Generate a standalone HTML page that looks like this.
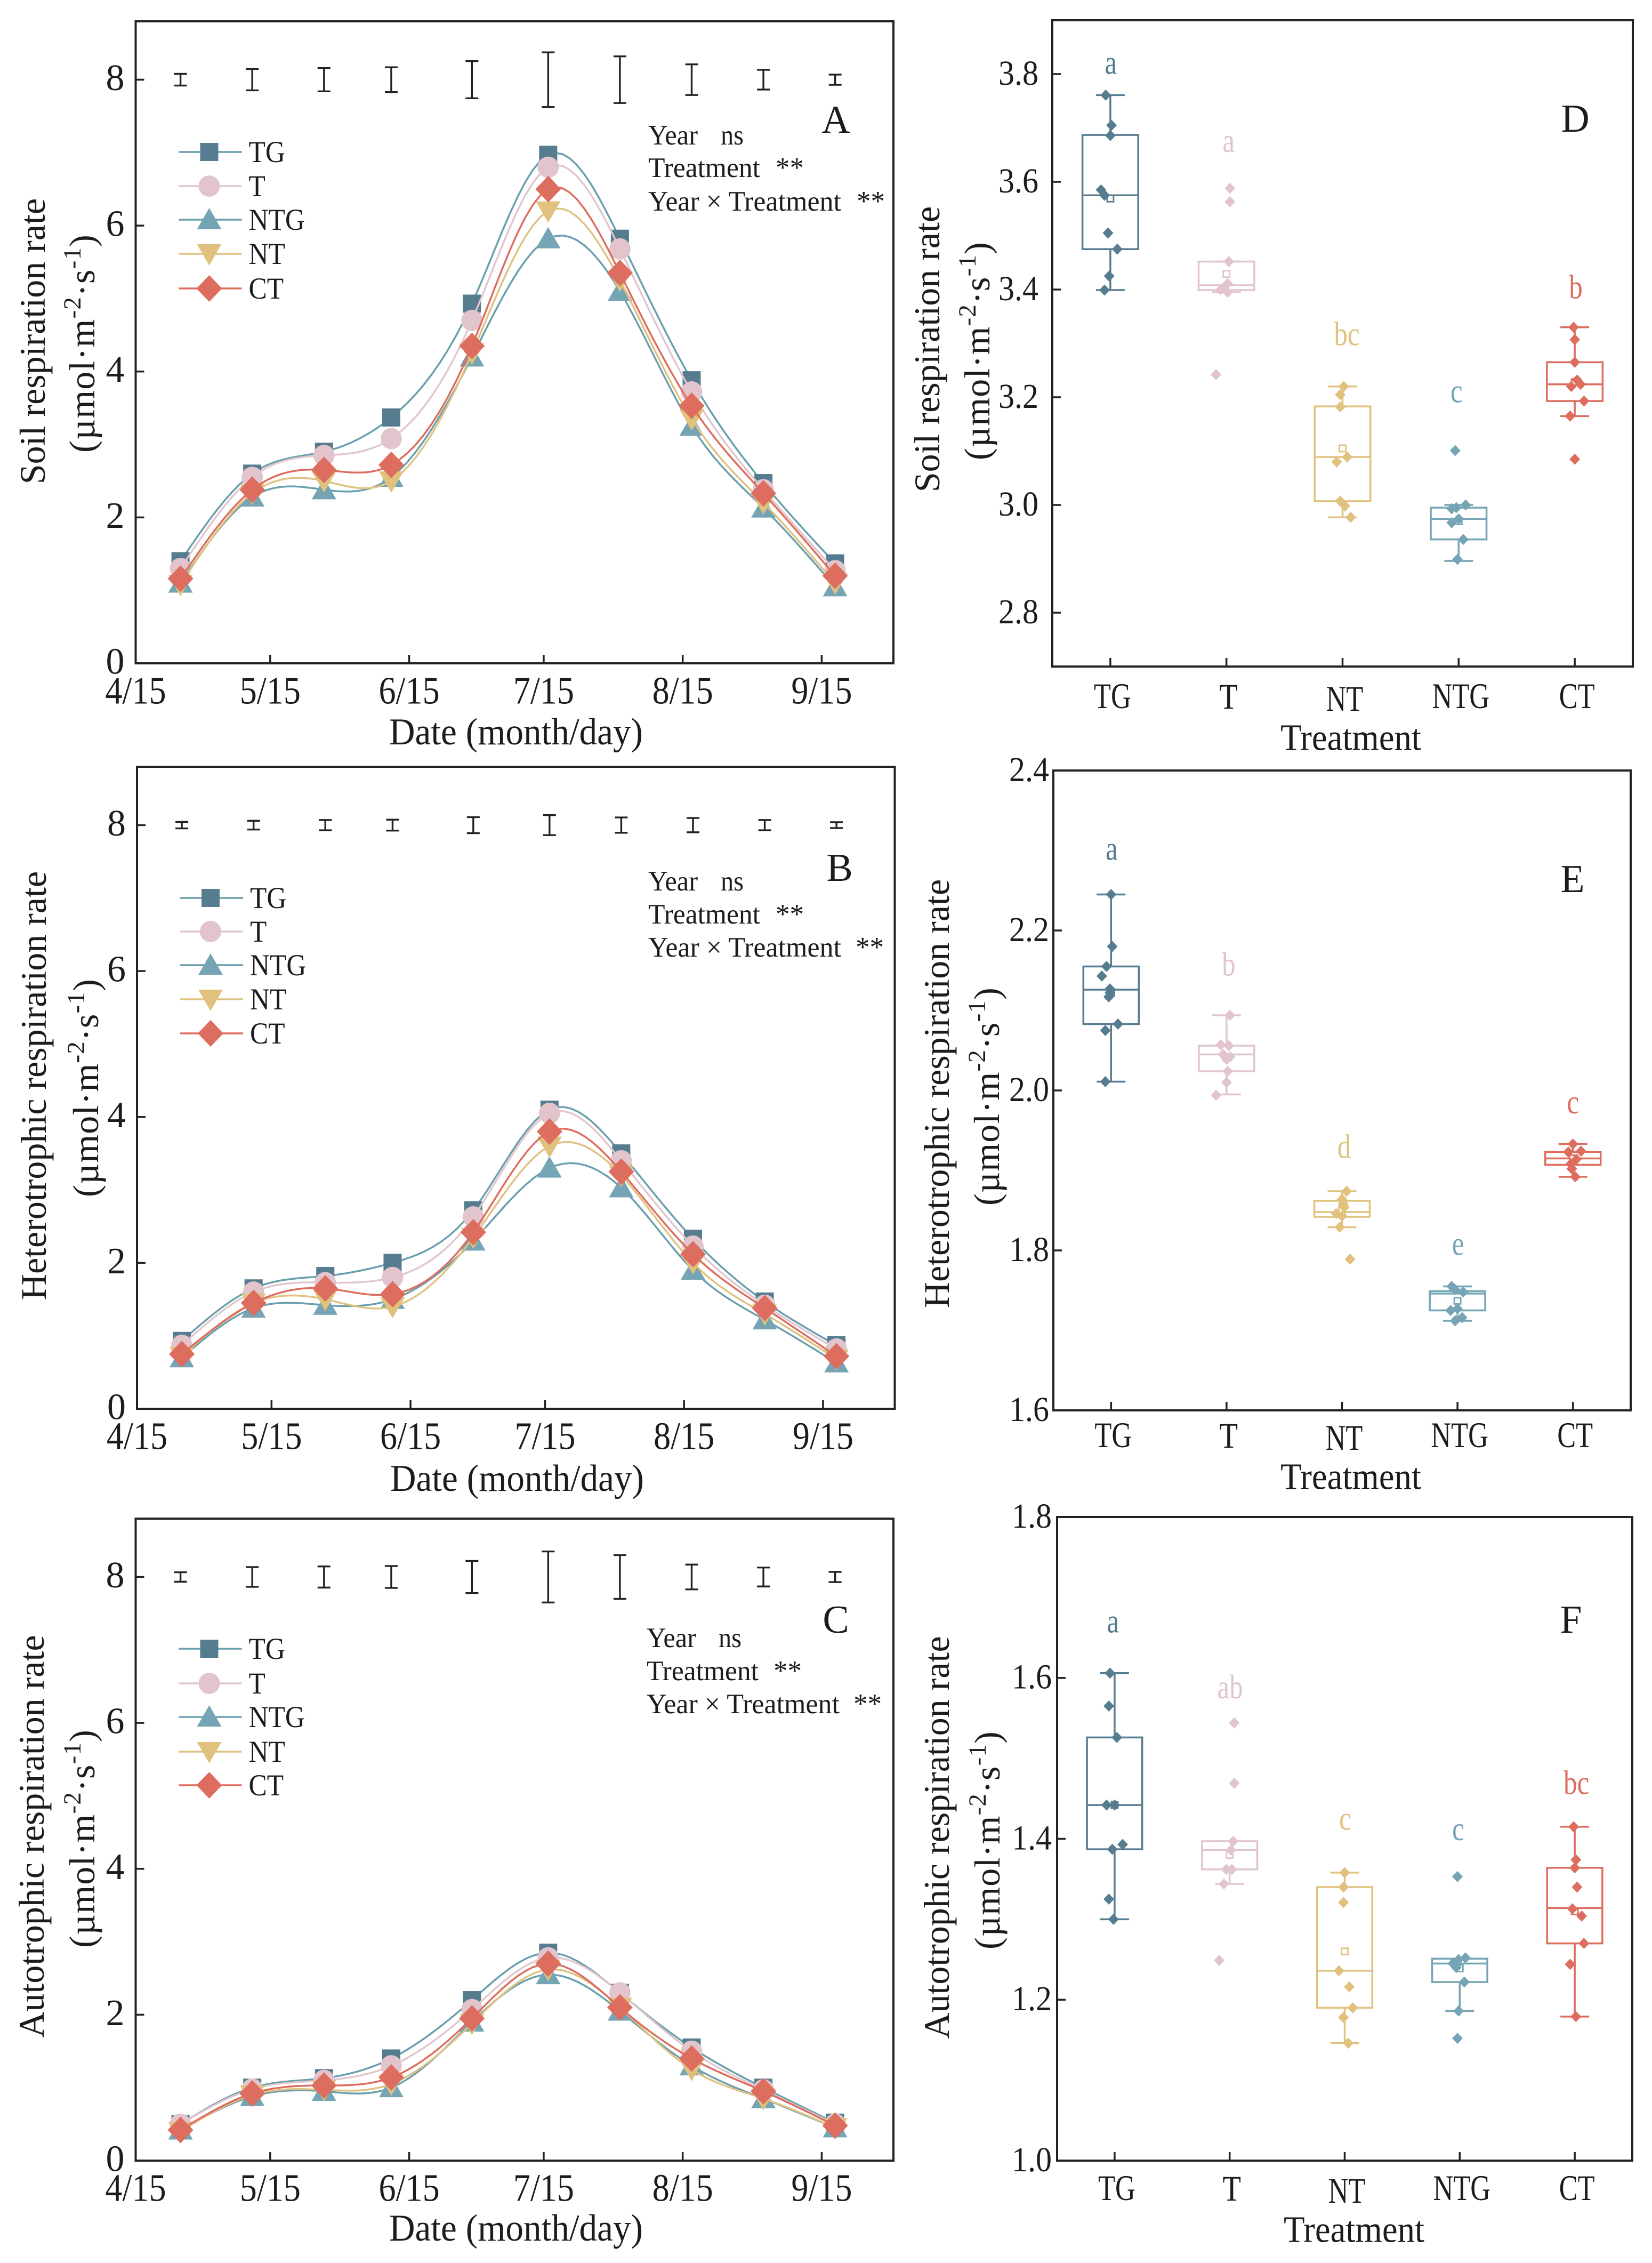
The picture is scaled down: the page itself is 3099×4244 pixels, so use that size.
<!DOCTYPE html>
<html lang="en">
<head>
<meta charset="utf-8">
<title>Respiration rates by treatment</title>
<style>
html,body{margin:0;padding:0;background:#fff;}
svg{display:block;}
text{font-family:"Liberation Serif","Times New Roman",serif;fill:#1c1c1c;}
.yt{font-size:68px;text-anchor:middle;}
.yu{font-size:68px;text-anchor:middle;letter-spacing:1.2px;}
.xt{font-size:71px;text-anchor:middle;dominant-baseline:central;}
.st{font-size:53px;dominant-baseline:central;}
.pl{font-size:74px;text-anchor:middle;dominant-baseline:central;}
</style>
</head>
<body>
<svg id="fig" xmlns="http://www.w3.org/2000/svg" width="3099" height="4244" viewBox="0 0 3099 4244">
<rect x="0" y="0" width="3099" height="4244" fill="#fff"/>

<g>
<text class="yt" transform="translate(84 640) rotate(-90)">Soil respiration rate</text>
<text class="yu" transform="translate(177 644) rotate(-90)">(µmol·m<tspan dy="-26" font-size="47">-2</tspan><tspan dy="26">·s</tspan><tspan dy="-26" font-size="47">-1</tspan><tspan dy="26">)</tspan></text>
<text class="xt" x="968" y="1373" textLength="476" lengthAdjust="spacingAndGlyphs">Date (month/day)</text>
<text class="pl" x="1568" y="225">A</text>
<text class="st" x="1216" y="254" textLength="93" lengthAdjust="spacingAndGlyphs">Year</text>
<text class="st" x="1352" y="254" textLength="43" lengthAdjust="spacingAndGlyphs">ns</text>
<text class="st" x="1216" y="315" textLength="210" lengthAdjust="spacingAndGlyphs">Treatment</text>
<text class="st" x="1455" y="315">**</text>
<text class="st" x="1216" y="378" textLength="362" lengthAdjust="spacingAndGlyphs">Year × Treatment</text>
<text class="st" x="1607" y="378">**</text>
</g>

<g>
<text class="yt" transform="translate(86 2036) rotate(-90)">Heterotrophic respiration rate</text>
<text class="yu" transform="translate(184 2040) rotate(-90)">(µmol·m<tspan dy="-26" font-size="47">-2</tspan><tspan dy="26">·s</tspan><tspan dy="-26" font-size="47">-1</tspan><tspan dy="26">)</tspan></text>
<text class="xt" x="970" y="2773" textLength="476" lengthAdjust="spacingAndGlyphs">Date (month/day)</text>
<text class="pl" x="1575" y="1628">B</text>
<text class="st" x="1216" y="1653" textLength="93" lengthAdjust="spacingAndGlyphs">Year</text>
<text class="st" x="1352" y="1653" textLength="43" lengthAdjust="spacingAndGlyphs">ns</text>
<text class="st" x="1216" y="1715" textLength="210" lengthAdjust="spacingAndGlyphs">Treatment</text>
<text class="st" x="1455" y="1715">**</text>
<text class="st" x="1216" y="1777" textLength="362" lengthAdjust="spacingAndGlyphs">Year × Treatment</text>
<text class="st" x="1605" y="1777">**</text>
</g>

<g>
<text class="yt" transform="translate(82 3444) rotate(-90)">Autotrophic respiration rate</text>
<text class="yu" transform="translate(177 3448) rotate(-90)">(µmol·m<tspan dy="-26" font-size="47">-2</tspan><tspan dy="26">·s</tspan><tspan dy="-26" font-size="47">-1</tspan><tspan dy="26">)</tspan></text>
<text class="xt" x="968" y="4179" textLength="476" lengthAdjust="spacingAndGlyphs">Date (month/day)</text>
<text class="pl" x="1568" y="3038">C</text>
<text class="st" x="1213" y="3072" textLength="93" lengthAdjust="spacingAndGlyphs">Year</text>
<text class="st" x="1348" y="3072" textLength="43" lengthAdjust="spacingAndGlyphs">ns</text>
<text class="st" x="1213" y="3134" textLength="210" lengthAdjust="spacingAndGlyphs">Treatment</text>
<text class="st" x="1451" y="3134">**</text>
<text class="st" x="1213" y="3196" textLength="362" lengthAdjust="spacingAndGlyphs">Year × Treatment</text>
<text class="st" x="1601" y="3196">**</text>
</g>

<g>
<text class="yt" transform="translate(1762 655) rotate(-90)">Soil respiration rate</text>
<text class="yu" transform="translate(1856 658) rotate(-90)">(µmol·m<tspan dy="-26" font-size="47">-2</tspan><tspan dy="26">·s</tspan><tspan dy="-26" font-size="47">-1</tspan><tspan dy="26">)</tspan></text>
<text class="xt" x="2534" y="1384" style="font-size:70px" textLength="264" lengthAdjust="spacingAndGlyphs">Treatment</text>
<text class="pl" x="2955" y="223">D</text>
</g>

<g>
<text class="yt" transform="translate(1780 2051) rotate(-90)">Heterotrophic respiration rate</text>
<text class="yu" transform="translate(1874 2056) rotate(-90)">(µmol·m<tspan dy="-26" font-size="47">-2</tspan><tspan dy="26">·s</tspan><tspan dy="-26" font-size="47">-1</tspan><tspan dy="26">)</tspan></text>
<text class="xt" x="2534" y="2770" style="font-size:70px" textLength="264" lengthAdjust="spacingAndGlyphs">Treatment</text>
<text class="pl" x="2950" y="1649">E</text>
</g>

<g>
<text class="yt" transform="translate(1780 3446) rotate(-90)">Autotrophic respiration rate</text>
<text class="yu" transform="translate(1875 3451) rotate(-90)">(µmol·m<tspan dy="-26" font-size="47">-2</tspan><tspan dy="26">·s</tspan><tspan dy="-26" font-size="47">-1</tspan><tspan dy="26">)</tspan></text>
<text class="xt" x="2540" y="4182" style="font-size:70px" textLength="264" lengthAdjust="spacingAndGlyphs">Treatment</text>
<text class="pl" x="2947" y="3038">F</text>
</g>
</svg>

<script>
/* ---------- shared categories and tick labels ---------- */
const sampleDays = [10, 26, 42, 57, 75, 92, 108, 124, 140, 156];
const dateTickDays = [0, 30, 61, 91, 122, 153];
const dateTickLabels = ['4/15', '5/15', '6/15', '7/15', '8/15', '9/15'];
const seriesKeys = ['TG', 'T', 'NTG', 'NT', 'CT'];
const boxCategories = ['TG', 'T', 'NT', 'NTG', 'CT'];
const lineTicks = [0, 2, 4, 6, 8];

/* ---------- panel A ---------- */
const aTG = [1.40, 2.60, 2.90, 3.37, 4.93, 6.97, 5.82, 3.88, 2.47, 1.37];
const aT = [1.30, 2.55, 2.85, 3.08, 4.70, 6.80, 5.68, 3.72, 2.38, 1.27];
const aNTG = [1.10, 2.28, 2.38, 2.55, 4.20, 5.82, 5.10, 3.25, 2.13, 1.05];
const aNT = [1.08, 2.33, 2.50, 2.50, 4.25, 6.20, 5.25, 3.35, 2.20, 1.10];
const aCT = [1.16, 2.38, 2.65, 2.72, 4.35, 6.50, 5.35, 3.53, 2.33, 1.20];
const aError = [0.08, 0.146, 0.16, 0.17, 0.255, 0.375, 0.32, 0.21, 0.135, 0.07];

/* ---------- panel B ---------- */
const bTG = [0.93, 1.65, 1.82, 2.00, 2.72, 4.10, 3.50, 2.33, 1.47, 0.87];
const bT = [0.87, 1.60, 1.73, 1.80, 2.63, 4.05, 3.40, 2.23, 1.42, 0.82];
const bNTG = [0.70, 1.38, 1.42, 1.50, 2.30, 3.30, 3.03, 1.90, 1.22, 0.63];
const bNT = [0.72, 1.45, 1.50, 1.40, 2.35, 3.60, 3.20, 2.00, 1.30, 0.68];
const bCT = [0.75, 1.45, 1.65, 1.57, 2.42, 3.80, 3.25, 2.12, 1.38, 0.72];
const bError = [0.045, 0.06, 0.07, 0.075, 0.11, 0.137, 0.105, 0.098, 0.07, 0.04];

/* ---------- panel C ---------- */
const cTG = [0.50, 1.00, 1.13, 1.40, 2.20, 2.85, 2.30, 1.55, 1.00, 0.52];
const cT = [0.50, 0.98, 1.10, 1.30, 2.07, 2.78, 2.30, 1.50, 0.97, 0.50];
const cNTG = [0.42, 0.88, 0.95, 1.00, 1.90, 2.55, 2.05, 1.30, 0.85, 0.45];
const cNT = [0.40, 0.90, 0.97, 1.05, 1.88, 2.62, 2.10, 1.25, 0.85, 0.45];
const cCT = [0.42, 0.92, 1.03, 1.14, 1.95, 2.70, 2.10, 1.40, 0.95, 0.48];
const cError = [0.065, 0.135, 0.145, 0.15, 0.22, 0.35, 0.30, 0.17, 0.13, 0.07];

/* ---------- panel D ---------- */
const dTicks = ['2.8', '3.0', '3.2', '3.4', '3.6', '3.8'];
const dQ1 = [3.475, 3.399, 3.007, 2.936, 3.193];
const dMedian = [3.575, 3.408, 3.089, 2.974, 3.224];
const dQ3 = [3.687, 3.452, 3.183, 2.995, 3.265];
const dLow = [3.399, 3.395, 2.977, 2.896, 3.165];
const dHigh = [3.761, 3.452, 3.220, 3.000, 3.330];
const dMean = [3.569, 3.429, 3.105, 2.970, 3.228];
const dLetters = ['a', 'a', 'bc', 'c', 'b'];
const dLetterAt = [3.815, 3.670, 3.318, 3.205, 3.405];
const dPoints = [
  [3.761, 3.705, 3.686, 3.585, 3.575, 3.505, 3.475, 3.425, 3.399],
  [3.588, 3.563, 3.452, 3.411, 3.404, 3.400, 3.395, 3.242],
  [3.220, 3.205, 3.182, 3.080, 3.089, 3.007, 2.998, 2.977],
  [3.101, 3.000, 2.995, 2.993, 2.974, 2.967, 2.936, 2.899],
  [3.330, 3.307, 3.265, 3.232, 3.224, 3.220, 3.193, 3.165, 3.085]
];
const dJitter = [
  [-0.04, 0.01, 0, -0.08, -0.05, -0.02, 0.06, -0.01, -0.05],
  [0.03, 0.03, 0.02, 0.01, -0.02, -0.05, 0.01, -0.09],
  [0.01, -0.02, -0.02, -0.05, 0.04, -0.02, 0.02, 0.07],
  [-0.03, 0.06, -0.02, -0.06, 0, -0.06, 0.04, -0.01],
  [-0.01, 0, 0, 0.02, 0.05, -0.03, 0.08, -0.04, 0]
];

/* ---------- panel E ---------- */
const eTicks = ['1.6', '1.8', '2.0', '2.2', '2.4'];
const eQ1 = [2.083, 2.024, 1.842, 1.725, 1.907];
const eMedian = [2.126, 2.045, 1.848, 1.746, 1.915];
const eQ3 = [2.155, 2.056, 1.862, 1.749, 1.923];
const eLow = [2.011, 1.995, 1.829, 1.712, 1.892];
const eHigh = [2.245, 2.094, 1.874, 1.755, 1.933];
const eMean = [2.122, 2.041, 1.851, 1.737, 1.915];
const eLetters = ['a', 'b', 'd', 'e', 'c'];
const eLetterAt = [2.298, 2.158, 1.930, 1.804, 1.981];
const ePoints = [
  [2.245, 2.180, 2.155, 2.143, 2.127, 2.122, 2.117, 2.083, 2.075, 2.011],
  [2.094, 2.057, 2.056, 2.045, 2.042, 2.039, 2.024, 2.010, 1.994],
  [1.874, 1.864, 1.858, 1.854, 1.846, 1.843, 1.829, 1.789],
  [1.755, 1.751, 1.748, 1.727, 1.725, 1.716, 1.712],
  [1.933, 1.924, 1.923, 1.914, 1.908, 1.902, 1.892]
];
const eJitter = [
  [0, 0.01, -0.04, -0.08, -0.01, -0.01, -0.02, 0.06, -0.05, -0.05],
  [0.03, -0.05, 0.02, -0.03, 0.03, 0, 0.01, 0, -0.09],
  [0.04, 0, 0.01, 0.02, -0.05, 0, -0.02, 0.07],
  [-0.05, -0.02, 0.05, 0, -0.06, 0.04, -0.02],
  [0, 0.07, -0.04, 0.03, -0.02, -0.01, 0.02]
];

/* ---------- panel F ---------- */
const fTicks = ['1.0', '1.2', '1.4', '1.6', '1.8'];
const fQ1 = [1.387, 1.362, 1.190, 1.222, 1.270];
const fMedian = [1.442, 1.386, 1.236, 1.245, 1.314];
const fQ3 = [1.526, 1.397, 1.340, 1.251, 1.364];
const fLow = [1.300, 1.344, 1.146, 1.186, 1.179];
const fHigh = [1.606, 1.397, 1.358, 1.251, 1.415];
const fMean = [1.442, 1.380, 1.260, 1.239, 1.310];
const fLetters = ['a', 'ab', 'c', 'c', 'bc'];
const fLetterAt = [1.666, 1.589, 1.421, 1.408, 1.470];
const fPoints = [
  [1.606, 1.565, 1.526, 1.442, 1.442, 1.393, 1.387, 1.325, 1.300],
  [1.544, 1.469, 1.397, 1.386, 1.362, 1.362, 1.344, 1.249],
  [1.358, 1.340, 1.321, 1.236, 1.216, 1.190, 1.178, 1.146],
  [1.353, 1.252, 1.250, 1.245, 1.240, 1.222, 1.186, 1.152],
  [1.415, 1.374, 1.364, 1.340, 1.313, 1.304, 1.270, 1.244, 1.179]
];
const fJitter = [
  [-0.04, -0.05, 0.02, -0.07, 0, 0.07, -0.02, -0.05, -0.01],
  [0.04, 0.04, 0.03, 0.01, -0.03, 0.02, -0.05, -0.09],
  [0, -0.01, -0.01, -0.05, 0.04, 0.07, -0.01, 0.03],
  [-0.02, 0.05, -0.01, -0.06, -0.03, 0.04, -0.01, -0.02],
  [-0.01, 0.01, 0, 0.02, -0.02, 0.06, 0.08, -0.04, 0.01]
];

/* ---------- rendering ---------- */
const NS = 'http://www.w3.org/2000/svg';
const fig = document.getElementById('fig');
const INK = '#222222';
const FILL = { TG: '#567c90', T: '#e1c4cc', NTG: '#75a5b4', NT: '#e0c27e', CT: '#dd6d5e' };
const LINE = { TG: '#6a9fae', T: '#e1c6ce', NTG: '#6a9fae', NT: '#dfc281', CT: '#dd6d5e' };

function mk(tag, attrs, parent) {
  const node = document.createElementNS(NS, tag);
  for (const k in attrs) node.setAttribute(k, attrs[k]);
  parent.appendChild(node);
  return node;
}

function squeezed(x, y, sx) {
  return 'translate(' + x + ' ' + y + ') scale(' + sx + ' 1)';
}

function naturalSpline(xs, ys, sub) {
  const n = xs.length;
  const h = [], c = new Array(n).fill(0), z = new Array(n).fill(0), m = new Array(n).fill(0);
  for (let i = 0; i < n - 1; i++) h[i] = xs[i + 1] - xs[i];
  for (let i = 1; i < n - 1; i++) {
    const al = 3 * ((ys[i + 1] - ys[i]) / h[i] - (ys[i] - ys[i - 1]) / h[i - 1]);
    const l = 2 * (xs[i + 1] - xs[i - 1]) - h[i - 1] * c[i - 1];
    c[i] = h[i] / l;
    z[i] = (al - h[i - 1] * z[i - 1]) / l;
  }
  for (let j = n - 2; j >= 0; j--) m[j] = z[j] - c[j] * m[j + 1];
  const out = [];
  for (let i = 0; i < n - 1; i++) {
    const b = (ys[i + 1] - ys[i]) / h[i] - h[i] * (m[i + 1] + 2 * m[i]) / 3;
    const d = (m[i + 1] - m[i]) / (3 * h[i]);
    for (let s = 0; s < sub; s++) {
      const t = h[i] * s / sub;
      out.push([xs[i] + t, ys[i] + b * t + m[i] * t * t + d * t * t * t]);
    }
  }
  out.push([xs[n - 1], ys[n - 1]]);
  return out;
}

function marker(key, cx, cy, parent) {
  const fill = FILL[key];
  if (key === 'TG') return mk('rect', { x: cx - 17, y: cy - 17, width: 34, height: 34, fill: fill }, parent);
  if (key === 'T') return mk('circle', { cx: cx, cy: cy, r: 20, fill: fill }, parent);
  if (key === 'NTG') return mk('polygon', { points: [cx, cy - 22, cx + 23, cy + 18, cx - 23, cy + 18].join(' '), fill: fill }, parent);
  if (key === 'NT') return mk('polygon', { points: [cx - 23, cy - 18, cx + 23, cy - 18, cx, cy + 22].join(' '), fill: fill }, parent);
  return mk('polygon', { points: [cx, cy - 25, cx + 24, cy, cx, cy + 25, cx - 24, cy].join(' '), fill: fill }, parent);
}

function frame(tag, L, R, T, B, parent) {
  const fr = mk('rect', { x: L, y: T, width: R - L, height: B - T, fill: 'none', stroke: INK, 'stroke-width': 4 }, parent);
  
  
}

function linePanel(p) {
  const g = mk('g', {}, fig);
  
  
  const x = d => p.L + d / 169 * (p.R - p.L);
  const y = v => p.B - v / 8.8 * (p.B - p.T);

  lineTicks.forEach(v => {
    const tk = mk('line', { x1: p.L, x2: p.L + 16, y1: y(v), y2: y(v), stroke: INK, 'stroke-width': 3.5 }, g);
    
    
    const lb = mk('text', { x: p.L - 21, y: y(v) - 3, 'text-anchor': 'end', 'dominant-baseline': 'central', 'font-size': 70 }, g);
    
    
    lb.textContent = String(v);
  });
  dateTickDays.forEach((d, i) => {
    if (d > 0) {
      const tk = mk('line', { x1: x(d), x2: x(d), y1: p.B, y2: p.B - 16, stroke: INK, 'stroke-width': 3.5 }, g);
      
      
    }
    const lb = mk('text', { transform: squeezed(x(d), p.B + 51, 0.88), 'text-anchor': 'middle', 'dominant-baseline': 'central', 'font-size': 73 }, g);
    
    
    lb.textContent = dateTickLabels[i];
  });

  seriesKeys.forEach(key => {
    const vals = p.series[key];
    const pts = naturalSpline(sampleDays, vals, 10);
    const ln = mk('path', {
      d: 'M' + pts.map(q => x(q[0]).toFixed(1) + ' ' + y(q[1]).toFixed(1)).join('L'),
      fill: 'none', stroke: LINE[key], 'stroke-width': 3.5
    }, g);
    
    
    vals.forEach((v, i) => {
      const mr = marker(key, x(sampleDays[i]), y(v), g);
      
      
    });
  });

  p.error.forEach((e, i) => {
    const cx = x(sampleDays[i]);
    const eb = mk('path', {
      d: 'M' + (cx - 12) + ' ' + y(8 + e) + 'H' + (cx + 12) + 'M' + cx + ' ' + y(8 + e) + 'V' + y(8 - e) + 'M' + (cx - 12) + ' ' + y(8 - e) + 'H' + (cx + 12),
      fill: 'none', stroke: INK, 'stroke-width': 3.4
    }, g);
    
    
  });

  seriesKeys.forEach((key, i) => {
    const ly = p.legendY[i];
    const ll = mk('line', { x1: p.L + 81, x2: p.L + 199, y1: ly, y2: ly, stroke: LINE[key], 'stroke-width': 3.5 }, g);
    
    
    const lm = marker(key, p.L + 138, ly, g);
    
    
    const lt = mk('text', { transform: squeezed(p.L + 212, ly, 0.9), 'dominant-baseline': 'central', 'font-size': 57 }, g);
    
    
    lt.textContent = key;
  });

  frame(p.tag, p.L, p.R, p.T, p.B, g);
}

function boxPanel(p) {
  const g = mk('g', {}, fig);
  
  
  const step = (p.R - p.L) / 5;
  const x = i => p.L + (i + 0.5) * step;
  const y = v => p.B - (v - p.min) / (p.max - p.min) * (p.B - p.T);

  p.ticks.forEach(t => {
    const v = parseFloat(t);
    if (v < p.max) {
      const tk = mk('line', { x1: p.L, x2: p.L + 16, y1: y(v), y2: y(v), stroke: INK, 'stroke-width': 3.5 }, g);
      
      
    }
    const lb = mk('text', { transform: squeezed(p.labelRight, y(v) - 2, 0.91), 'text-anchor': 'end', 'dominant-baseline': 'central', 'font-size': 66 }, g);
    
    
    lb.textContent = t;
  });

  boxCategories.forEach((cat, i) => {
    const cx = x(i);
    const col = FILL[cat];
    const tk = mk('line', { x1: cx, x2: cx, y1: p.B, y2: p.B - 16, stroke: INK, 'stroke-width': 3.5 }, g);
    
    
    const lb = mk('text', { transform: squeezed(cx + 4, p.catY + (cat === 'NT' ? 5 : 0), cat === 'T' ? 0.83 : 0.77), 'text-anchor': 'middle', 'dominant-baseline': 'central', 'font-size': 68 }, g);
    
    
    lb.textContent = cat;

    const hw = 0.24 * step, cw = 27;
    const wh = mk('path', {
      d: 'M' + cx + ' ' + y(p.q3[i]) + 'V' + y(p.high[i]) + 'M' + (cx - cw) + ' ' + y(p.high[i]) + 'H' + (cx + cw) +
         'M' + cx + ' ' + y(p.q1[i]) + 'V' + y(p.low[i]) + 'M' + (cx - cw) + ' ' + y(p.low[i]) + 'H' + (cx + cw),
      fill: 'none', stroke: col, 'stroke-width': 3.5
    }, g);
    
    
    const bx = mk('rect', { x: cx - hw, y: y(p.q3[i]), width: 2 * hw, height: y(p.q1[i]) - y(p.q3[i]), fill: 'none', stroke: col, 'stroke-width': 3.5 }, g);
    
    
    const md = mk('line', { x1: cx - hw, x2: cx + hw, y1: y(p.median[i]), y2: y(p.median[i]), stroke: col, 'stroke-width': 3.5 }, g);
    
    
    const mn = mk('rect', { x: cx - 6, y: y(p.mean[i]) - 6, width: 12, height: 12, fill: '#fff', stroke: col, 'stroke-width': 2.8 }, g);
    
    

    p.points[i].forEach((v, j) => {
      const px = cx + p.jitter[i][j] * step;
      const py = y(v);
      const d = mk('polygon', { points: [px, py - 10.5, px + 10, py, px, py + 10.5, px - 10, py].join(' '), fill: col }, g);
      
      
    });

    const label = p.letters[i];
    const shift = /[bd]/.test(label) ? 0 : -7;
    const sig = mk('text', { transform: squeezed(cx + p.letterDx[i], y(p.letterAt[i]) + shift, 0.8), 'text-anchor': 'middle', 'dominant-baseline': 'central', 'font-size': 64, style: 'fill:' + col }, g);
    
    
    sig.textContent = label;
  });

  frame(p.tag, p.L, p.R, p.T, p.B, g);
}

linePanel({ tag: 'a', L: 254.5, R: 1676, T: 40, B: 1244,
  series: { TG: aTG, T: aT, NTG: aNTG, NT: aNT, CT: aCT }, error: aError,
  legendY: [285, 349, 412, 476, 541] });
linePanel({ tag: 'b', L: 257, R: 1678.5, T: 1438, B: 2642,
  series: { TG: bTG, T: bT, NTG: bNTG, NT: bNT, CT: bCT }, error: bError,
  legendY: [1684, 1747, 1810, 1874, 1938] });
linePanel({ tag: 'c', L: 254.5, R: 1676, T: 2848, B: 4052,
  series: { TG: cTG, T: cT, NTG: cNTG, NT: cNT, CT: cCT }, error: cError,
  legendY: [3092, 3157, 3220, 3285, 3348] });

boxPanel({ tag: 'd', L: 1974, R: 3063, T: 38, B: 1250, min: 2.7, max: 3.9, ticks: dTicks, labelRight: 1948, catY: 1306,
  q1: dQ1, median: dMedian, q3: dQ3, low: dLow, high: dHigh, mean: dMean,
  points: dPoints, jitter: dJitter, letters: dLetters, letterAt: dLetterAt, letterDx: [1, 4, 8, -4, 2] });
boxPanel({ tag: 'e', L: 1976, R: 3059, T: 1445, B: 2645, min: 1.6, max: 2.4, ticks: eTicks, labelRight: 1968, catY: 2692,
  q1: eQ1, median: eMedian, q3: eQ3, low: eLow, high: eHigh, mean: eMean,
  points: ePoints, jitter: eJitter, letters: eLetters, letterAt: eLetterAt, letterDx: [1, 4, 4, 1, 0] });
boxPanel({ tag: 'f', L: 1983, R: 3062, T: 2845, B: 4052, min: 1.0, max: 1.8, ticks: fTicks, labelRight: 1973, catY: 4104,
  q1: fQ1, median: fMedian, q3: fQ3, low: fLow, high: fHigh, mean: fMean,
  points: fPoints, jitter: fJitter, letters: fLetters, letterAt: fLetterAt, letterDx: [-3, 1, 1, -3, 3] });
</script>
</body>
</html>
